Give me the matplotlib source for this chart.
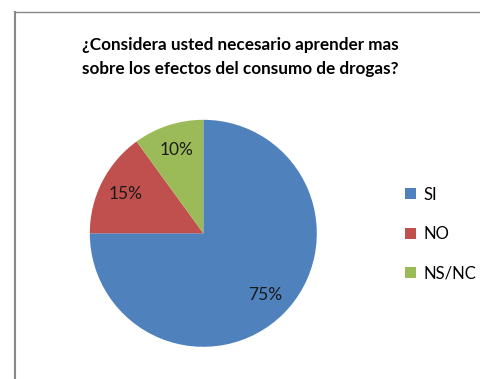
import matplotlib
matplotlib.use("Agg")
import matplotlib.pyplot as plt
from matplotlib.lines import Line2D

categories = ["SI", "NO", "NS/NC"]
percentages = [75, 15, 10]
colors = ["#4F81BD", "#C0504D", "#9BBB59"]
title = "¿Considera usted necesario aprender mas\nsobre los efectos del consumo de drogas?"

plt.rcParams["font.family"] = ["Lato", "DejaVu Sans"]

W, H = 480, 379
fig = plt.figure(figsize=(W / 100, H / 100), dpi=100)
ax = fig.add_axes([0, 0, 1, 1])
ax.set_xlim(0, W)
ax.set_ylim(0, H)
ax.set_aspect("equal")
ax.axis("off")

wedges, texts, autotexts = ax.pie(
    percentages,
    colors=colors,
    startangle=90,
    counterclock=False,
    center=(203.3, H - 233.3),
    radius=113.5,
    autopct=lambda p: f"{p:.0f}%",
    pctdistance=0.77,
    textprops={"fontsize": 12.5, "color": "#1a1a1a"},
    wedgeprops={"linewidth": 0},
)
ax.set_xlim(0, W)
ax.set_ylim(0, H)

fig.text(0.5, 1 - 57 / H, title, ha="center", va="center",
         fontsize=12.3, fontweight="bold", linespacing=1.6, color="#000000")

leg = fig.legend(wedges, categories, loc="center left",
                 bbox_to_anchor=(390 / W, 1 - 234 / H), frameon=False,
                 fontsize=12, handlelength=0.65, handleheight=0.65,
                 handletextpad=0.45, labelspacing=1.4)

# chart frame edges
fig.add_artist(Line2D([15 / W, 15 / W], [0, 1 - 12 / H], color="#888888", lw=1.5))
fig.add_artist(Line2D([15 / W, 1], [1 - 12 / H, 1 - 12 / H], color="#888888", lw=1.0))

fig.savefig("out.png", dpi=100)
